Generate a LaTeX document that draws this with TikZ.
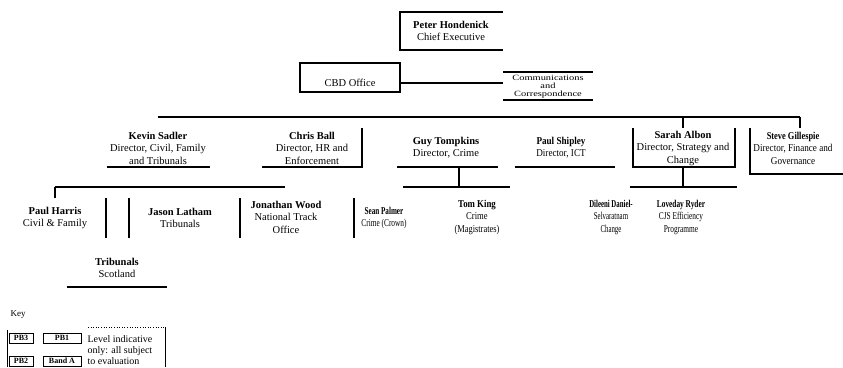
\documentclass[tikz,border=0pt]{standalone}
\usepackage{fontspec}
\usepackage{graphicx}
\setmainfont{Liberation Serif}
\newcommand{\sqz}[2]{\scalebox{#1}[1]{#2}}
\begin{document}
\begin{tikzpicture}[x=1pt,y=-1pt,line width=1.1pt,
  lbl/.style={align=center,font=\fontsize{10.5}{12.5}\selectfont,inner sep=0pt},
  keytxt/.style={align=left,font=\fontsize{10}{11}\selectfont,inner sep=0pt,anchor=west},
  keybox/.style={draw,line width=0.8pt,minimum width=#1,minimum height=10,inner sep=0pt,font=\fontsize{8}{8}\selectfont\bfseries}]
\useasboundingbox (0,0) rectangle (843,367);

% top level
\node[lbl] (peter) at (451,31) {\textbf{Peter Hondenick}\\Chief Executive};
\draw (503,12) -- (400,12) -- (400,50) -- (503,50);

\node[draw,minimum width=100,minimum height=29,inner sep=0pt] (cbd) at (350,77.5) {};
\node[lbl] (cbdt) at (350,83) {CBD Office};
\node[align=center,inner sep=0pt,font=\fontsize{8}{8.2}\selectfont] (comm) at (548,87) {\sqz{1.3}{Communications}\\\sqz{1.3}{and}\\\sqz{1.3}{Correspondence}};
\coordinate (commL) at (503,83);
\draw (503,72) -- (593,72);
\draw (503,100) -- (593,100);
\draw (cbd.east |- commL) -- (commL);

% main bar
\coordinate (mainL) at (158,117);
\coordinate (mainR) at (800,117);
\draw (mainL) -- (mainR);

% directors
\node[lbl] (kevin) at (158,148) {\textbf{Kevin Sadler}\\Director, Civil, Family\\and Tribunals};
\draw (107,167) -- (210,167);

\node[lbl] (chris) at (312,148) {\textbf{Chris Ball}\\Director, HR and\\Enforcement};
\draw (262,167) -- (362,167) -- (362,128);

\node[lbl] (guy) at (446,147.5) {\textbf{Guy Tompkins}\\Director, Crime};
\coordinate (guyB) at (459,167);
\coordinate (guyS) at (459,187);
\draw (397,167) -- (498,167);
\draw (guyB) -- (guyS);
\draw (403,187) -- (510,187);

\node[lbl] (paul) at (561,147.5) {\sqz{0.87}{\textbf{Paul Shipley}}\\\sqz{0.87}{Director, ICT}};
\draw (515,167) -- (615,167);

\node[lbl] (sarah) at (683,148) {\textbf{Sarah Albon}\\Director, Strategy and\\Change};
\coordinate (sarahT) at (683,128);
\coordinate (sarahB) at (683,167);
\coordinate (sarahS) at (683,187);
\draw (sarahT |- mainL) -- (sarahT);
\draw (633,128) -- (633,167) -- (735,167) -- (735,128);
\draw (sarahB) -- (sarahS);
\draw (630,187) -- (737,187);

\node[lbl] (steve) at (793,148) {\sqz{0.8}{\textbf{Steve Gillespie}}\\\sqz{0.87}{Director, Finance and}\\\sqz{0.87}{Governance}};
\coordinate (steveT) at (800,128);
\draw (mainR) -- (steveT);
\draw (750,128) -- (750,174) -- (843,174);

% left third level
\coordinate (civL) at (55,187);
\coordinate (civD) at (55,198);
\draw (civL) -- (285,187);
\draw (civL) -- (civD);
\foreach \x in {106,129,240,354} \draw (\x,198) -- (\x,238);

\node[lbl] (harris) at (55,218) {\textbf{Paul Harris}\\Civil \& Family};
\node[lbl] (latham) at (180,218) {\textbf{Jason Latham}\\Tribunals};
\node[lbl] (wood) at (286,217) {\textbf{Jonathan Wood}\\National Track\\Office};
\node[lbl] (palmer) at (384,218) {\sqz{0.68}{\textbf{Sean Palmer}}\\\sqz{0.7}{Crime (Crown)}};
\node[lbl] (king) at (477,217) {\sqz{0.84}{\textbf{Tom King}}\\\sqz{0.82}{Crime}\\\sqz{0.8}{(Magistrates)}};
\node[lbl] (dileeni) at (611,217) {\sqz{0.65}{\textbf{Dileeni Daniel-}}\\\sqz{0.65}{Selvaratnam}\\\sqz{0.65}{Change}};
\node[lbl] (loveday) at (681,217) {\sqz{0.7}{\textbf{Loveday Ryder}}\\\sqz{0.7}{CJS Efficiency}\\\sqz{0.7}{Programme}};

\node[lbl] (scot) at (117,268) {\textbf{Tribunals}\\Scotland};
\draw (67,287) -- (167,287);

% key
\node[inner sep=0pt,anchor=west,font=\fontsize{9}{9}\selectfont] (key) at (10,315) {Key};
\draw[line width=0.8pt] (7,330) -- (7,367);
\draw[line width=0.6pt,dotted] (88,327) -- (165,327);
\draw[line width=0.8pt] (165,327) -- (165,367);
\node[keybox=24] (pb3) at (21,338) {PB3};
\node[keybox=38] (pb1) at (62,338) {PB1};
\node[keybox=24] (pb2) at (21,361) {PB2};
\node[keybox=38] (banda) at (62,361) {Band A};
\node[keytxt] (kt) at (87,350) {Level indicative\\only: all subject\\to evaluation};
\end{tikzpicture}
\end{document}
